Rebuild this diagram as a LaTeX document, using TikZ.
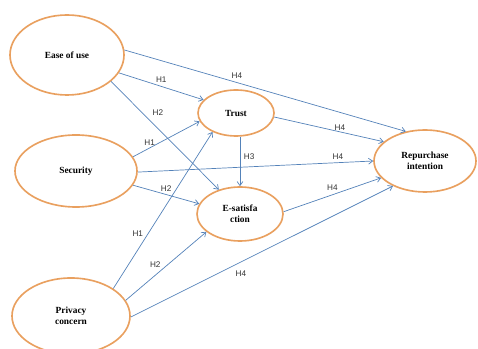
\documentclass[tikz,border=0pt]{standalone}
\usepackage{fontspec}
\setmainfont{Liberation Serif}
\newfontfamily\labelfont{Liberation Sans}
\usetikzlibrary{arrows.meta, shapes.geometric}

\definecolor{ringorange}{RGB}{233,160,95}
\definecolor{pathblue}{RGB}{84,130,185}

\begin{document}
\begin{tikzpicture}[x=0.03cm, y=-0.03cm,
    construct/.style={ellipse, draw=ringorange, line width=1.4pt, inner sep=0pt, align=center,
        font=\fontsize{8}{9.5}\selectfont\bfseries},
    path/.style={draw=pathblue, line width=0.6pt, -{Straight Barb[length=3.5pt, width=5pt]}},
    hyp/.style={font=\labelfont\fontsize{7}{8}\selectfont, text=black!80, inner sep=1pt}]

    % Fix the page to the size of the figure
    \useasboundingbox (0,0) rectangle (478,349);

    % Independent constructs on the left
    \node[construct, minimum width=3.42cm, minimum height=2.4cm] (easeofuse) at (67,55) {Ease of use};
    \node[construct, minimum width=3.66cm, minimum height=2.16cm] (security) at (76,171) {Security};
    \node[construct, minimum width=3.54cm, minimum height=2.28cm] (privacy) at (71,316) {Privacy\\concern};

    % Mediators in the middle
    \node[construct, minimum width=2.28cm, minimum height=1.38cm] (trust) at (236,113) {Trust};
    \node[construct, minimum width=2.58cm, minimum height=1.62cm] (esat) at (240,214) {E-satisfa\\ction};

    % Outcome on the right
    \node[construct, minimum width=3.06cm, minimum height=1.86cm] (repurchase) at (425,161) {Repurchase\\intention};

    % Paths from ease of use
    \draw[path] (easeofuse.5) -- (repurchase.123) node[hyp, pos=0.4, above=2pt] {H4};
    \draw[path] (easeofuse.-19) -- (trust.158) node[hyp, pos=0.5, above=2pt] {H1};
    \draw[path] (easeofuse.-31) -- (esat.131) node[hyp, pos=0.35, above right=2pt] {H2};

    % Paths from security
    \draw[path] (security.14) -- (trust.193) node[hyp, pos=0.25, above=1pt] {H1};
    \draw[path] (security.-1) -- (repurchase.180) node[hyp, pos=0.85, above=1pt] {H4};
    \draw[path] (security.-14) -- (esat.166) node[hyp, pos=0.5, above=1pt] {H2};

    % Paths from the mediators
    \draw[path] (trust.-6) -- (repurchase.155) node[hyp, pos=0.6, above=0pt] {H4};
    \draw[path] (esat.north |- trust.south) -- (esat.north) node[hyp, pos=0.4, right=2pt] {H3};
    \draw[path] (esat.3) -- (repurchase.201) node[hyp, pos=0.5, above=2pt] {H4};

    % Paths from privacy concern
    \draw[path] (privacy.33) -- (trust.219) node[hyp, pos=0.35, left=3pt] {H1};
    \draw[path] (privacy.16) -- (esat.208) node[hyp, pos=0.45, above left=0pt] {H2};
    \draw[path] (privacy.-1) -- (repurchase.218) node[hyp, pos=0.42, below=6pt] {H4};

\end{tikzpicture}
\end{document}
